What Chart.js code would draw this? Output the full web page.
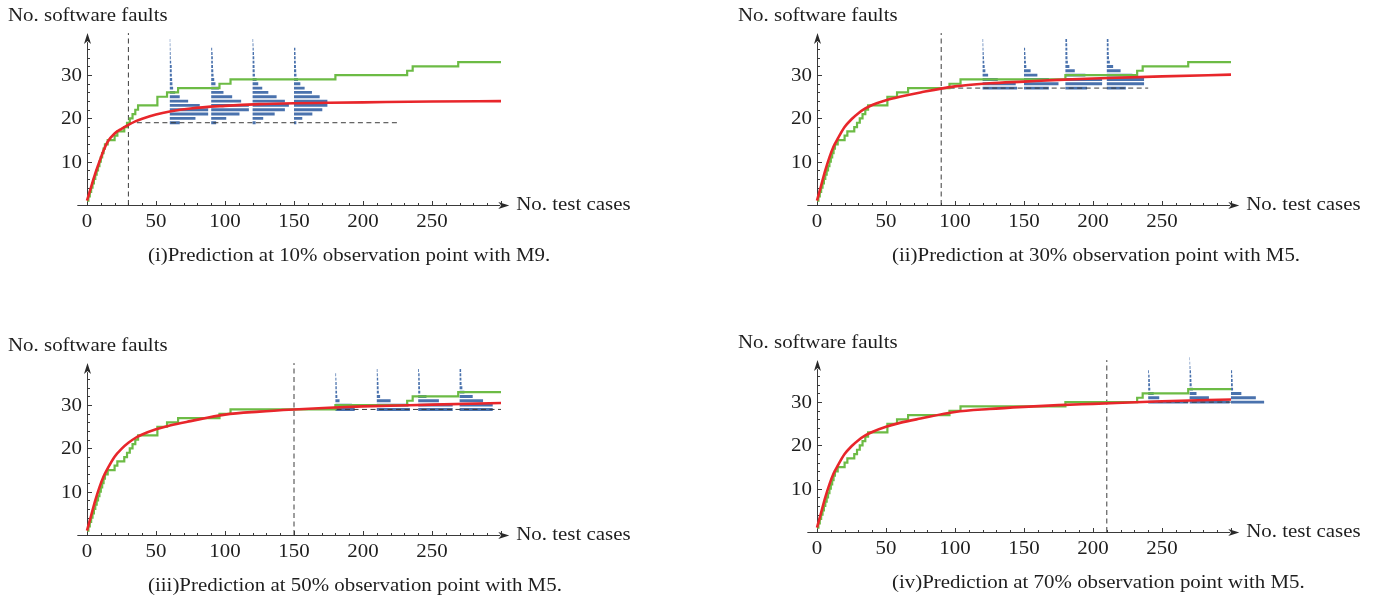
<!DOCTYPE html>
<html>
<head>
<meta charset="utf-8">
<script src="https://cdn.jsdelivr.net/npm/chart.js@4.4.0/dist/chart.umd.min.js"></script>
<style>
  body { margin: 0; background: #fff; width: 1377px; height: 595px; overflow: hidden; position: relative; }
  canvas { position: absolute; }
</style>
</head>
<body>
<canvas id="p1" width="640" height="270" style="left:0px;top:0px"></canvas>
<canvas id="p2" width="647" height="270" style="left:730px;top:0px"></canvas>
<canvas id="p3" width="640" height="265" style="left:0px;top:330px"></canvas>
<canvas id="p4" width="647" height="268" style="left:730px;top:327px"></canvas>
<script>
// observed faults (green step): count becomes faultsFound[i] at testCases[i]
const testCases   = [0, 1, 2, 3, 4, 5, 6, 7, 8, 9, 10, 11, 12, 13, 15, 20, 22, 27, 29, 31, 33, 35, 37, 51, 58, 66, 96, 104, 180, 232, 236, 269, 300];
const faultsFound = [1, 2, 3, 4, 5, 6, 7, 8, 9, 10, 11, 12, 13, 14, 15, 16, 17, 18, 19, 20, 21, 22, 23, 25, 26, 27, 28, 29, 30, 31, 32, 33, 33];

// fitted mean curves (red), read at these test cases
const curveX = [0, 3, 6, 9, 12, 15, 20, 25, 30, 35, 40, 50, 60, 75, 100, 125, 150, 175, 200, 250, 300];
const fitM9at10 = [1, 4.2, 7.3, 10, 12.6, 14.6, 16.5, 17.6, 18.5, 19.3, 19.9, 20.9, 21.6, 22.3, 22.9, 23.3, 23.5, 23.6, 23.7, 23.9, 24.0];
const fitM5at30 = [1, 4.5, 8, 11, 13.5, 15.3, 18, 19.8, 21.2, 22.3, 23.1, 24.2, 25, 26, 27.4, 28.1, 28.5, 28.9, 29.2, 29.7, 30.1];
const fitM5at50 = [1, 4.5, 8, 11, 13.5, 15.4, 18.1, 19.9, 21.3, 22.4, 23.2, 24.4, 25.3, 26.3, 27.8, 28.5, 29, 29.4, 29.7, 30.1, 30.5];
const fitM5at70 = [1, 4.5, 8, 11, 13.5, 15.3, 18, 19.8, 21.2, 22.3, 23.1, 24.3, 25.2, 26.2, 27.7, 28.4, 28.9, 29.3, 29.6, 30.2, 30.6];

// observation points and the fault count there
const obsPoints = [30, 90, 150, 210];
const obsFaults = [19, 27, 29, 30];
const dashEnds  = [225, 240, 300, 300];

// predictive distributions: bar lengths (in test-case units) for counts obsFaults, obsFaults+1, ...
const predTimes1 = [60, 90, 120, 150];
const predLen1 = [
  [7.2, 18.6, 27.8, 27.8, 21.7, 13.3, 7.2, 3.9, 2.4, 1.9, 1.7, 1.5, 1.4, 1.4, 1.0, 0.7, 0.6, 0.5, 0.4, 0.3],
  [3.6, 10.9, 20.5, 27.3, 27.3, 21.7, 15.2, 8.9, 5.6, 3.1, 2.2, 1.7, 1.5, 1.3, 1.2, 1.2, 1.0, 0.7, 0.5, 0.4],
  [2.2, 7.7, 16, 23.4, 26.3, 23.4, 17.4, 11.4, 7, 4.1, 2.9, 1.7, 1.5, 1.4, 1.3, 1.2, 1.0, 0.8, 0.6, 0.4],
  [1.7, 6, 13.3, 20.5, 24.2, 24.2, 18.6, 13, 7.7, 4.6, 2.9, 1.8, 1.6, 1.4, 1.3, 1.2, 1.1, 1.0, 0.7, 0.5]
];
const predTimes2 = [120, 150, 180, 210];
const predLen2 = [
  [25, 24, 11, 4, 2, 1.5, 1.2, 1.0, 0.8, 0.6, 0.5, 0.4],
  [18, 25, 18, 9.7, 4.8, 1.7, 1.4, 1.2, 1.0, 0.8, 0.6, 0.5],
  [15.7, 26.6, 26.6, 14.5, 6.8, 2.9, 1.8, 1.5, 1.4, 1.4, 1.3, 1.2],
  [13.8, 27, 27, 18.6, 10, 4.6, 2.2, 1.6, 1.4, 1.3, 1.3, 1.2]
];
const predTimes3 = [180, 210, 240, 270];
const predLen3 = [
  [14, 12, 3, 1.4, 1.2, 1.0, 0.9, 0.7, 0.5, 0.4],
  [24, 23, 10, 2.4, 1.5, 1.3, 1.2, 1.0, 0.7, 0.5],
  [25, 25, 15, 6, 1.5, 1.3, 1.2, 1.1, 1.0, 0.6],
  [24, 24, 17, 9.5, 3.5, 2, 1.4, 1.3, 1.2, 1.1]
];
const predTimes4 = [240, 270, 300];
const predLen4 = [
  [29, 8, 4, 1.5, 1.3, 1.2, 1.0, 0.6, 0.4, 0.3, 0.3],
  [29, 14, 5, 2.4, 1.5, 1.3, 1.2, 1.0, 0.6, 0.4, 0.3],
  [24, 18, 7.5, 1.5, 1.3, 1.2, 1.0, 0.8, 0.5, 0.4, 0.3]
];

const xTickLabels = [0, 50, 100, 150, 200, 250];
const yTickLabels = [10, 20, 30];
const yTitle = 'No. software faults';
const xTitle = 'No. test cases';
const captions = [
  '(i)Prediction at 10% observation point with M9.',
  '(ii)Prediction at 30% observation point with M5.',
  '(iii)Prediction at 50% observation point with M5.',
  '(iv)Prediction at 70% observation point with M5.'
];

// layout
const X_MIN = -8, X_MAX = 330, Y_MAX = 41;
const X_AXIS_END = 306, Y_AXIS_END = 39.7;
const ORIGIN_X = 87, ORIGIN_Y = 205, X_UNIT = 1.38, Y_UNIT = 4.33;
const TEXT_STRETCH = 1.1;
const FONT = '19px "Liberation Serif", "Times New Roman", serif';

function stretchedText(ctx, str, x, y, align) {
  ctx.save();
  ctx.translate(x, y);
  ctx.scale(TEXT_STRETCH, 1);
  ctx.textAlign = align;
  ctx.textBaseline = 'middle';
  ctx.fillText(str, 0, 0);
  ctx.restore();
}

const mmaAxes = {
  id: 'mmaAxes',
  beforeDatasetsDraw(chart) {
    const ctx = chart.ctx;
    const xs = chart.scales.x, ys = chart.scales.y;
    const y0 = Math.round(ys.getPixelForValue(0)) + 0.5;
    const x0 = Math.round(xs.getPixelForValue(0)) + 0.5;
    const xl = xs.getPixelForValue(-7), xr = xs.getPixelForValue(X_AXIS_END);
    const yt = ys.getPixelForValue(Y_AXIS_END);
    ctx.save();
    ctx.strokeStyle = '#3a3a3a';
    ctx.fillStyle = '#2a2a2a';
    ctx.lineWidth = 1;
    ctx.beginPath();
    ctx.moveTo(xl, y0); ctx.lineTo(xr - 9, y0);
    ctx.moveTo(x0, y0); ctx.lineTo(x0, yt + 9);
    for (let v = 10; v <= 300; v += 10) {
      const px = Math.round(xs.getPixelForValue(v)) + 0.5;
      ctx.moveTo(px, y0); ctx.lineTo(px, y0 - (v % 50 === 0 ? 4.5 : 2.5));
    }
    for (let v = 2; v <= 38; v += 2) {
      const py = Math.round(ys.getPixelForValue(v)) + 0.5;
      ctx.moveTo(x0, py); ctx.lineTo(x0 + (v % 10 === 0 ? 4.5 : 2.5), py);
    }
    ctx.stroke();
    // arrow heads
    ctx.beginPath();
    ctx.moveTo(xr, y0); ctx.lineTo(xr - 11, y0 - 3.5); ctx.lineTo(xr - 8, y0); ctx.lineTo(xr - 11, y0 + 3.5); ctx.closePath();
    ctx.fill();
    ctx.beginPath();
    ctx.moveTo(x0, yt); ctx.lineTo(x0 - 3.5, yt + 11); ctx.lineTo(x0, yt + 8); ctx.lineTo(x0 + 3.5, yt + 11); ctx.closePath();
    ctx.fill();
    ctx.restore();
  },
  afterDraw(chart, args, opts) {
    const ctx = chart.ctx;
    const xs = chart.scales.x, ys = chart.scales.y;
    const y0 = ys.getPixelForValue(0), x0 = xs.getPixelForValue(0);
    ctx.save();
    ctx.fillStyle = '#1e1e1e';
    ctx.font = FONT;
    xTickLabels.forEach(v => stretchedText(ctx, String(v), xs.getPixelForValue(v), y0 + 17, 'center'));
    yTickLabels.forEach(v => stretchedText(ctx, String(v), x0 - 5, ys.getPixelForValue(v) + 1, 'right'));
    stretchedText(ctx, yTitle, 8, 16, 'left');
    stretchedText(ctx, xTitle, xs.getPixelForValue(X_AXIS_END) + 7, y0, 'left');
    stretchedText(ctx, opts.caption, opts.captionX, 256, 'left');
    ctx.restore();
  }
};

function histogramPoints(times, lengths, base) {
  const pts = [];
  times.forEach((t, i) => {
    lengths[i].forEach((len, k) => {
      pts.push({ x: t, y: base + k }, { x: t + len, y: base + k }, { x: t + len, y: null });
    });
  });
  return pts;
}

function makePanel(id, idx, fit, times, lengths, captionX) {
  const canvas = document.getElementById(id);
  const w = canvas.width, h = canvas.height;
  const obs = obsPoints[idx], base = obsFaults[idx];
  new Chart(canvas, {
    type: 'line',
    data: {
      datasets: [
        {
          data: curveX.map((x, i) => ({ x: x, y: fit[i] })),
          borderColor: '#e8262b', borderWidth: 2.6, cubicInterpolationMode: 'monotone', pointRadius: 0
        },
        {
          data: testCases.map((x, i) => ({ x: x, y: faultsFound[i] })),
          borderColor: '#6cbb45', borderWidth: 2.2, stepped: true, pointRadius: 0
        },
        {
          data: [{ x: obs, y: 0 }, { x: obs, y: Y_AXIS_END }, { x: obs, y: null }, { x: obs, y: base }, { x: dashEnds[idx], y: base }],
          borderColor: '#3c3c3c', borderWidth: 1, borderDash: [5, 3.5], pointRadius: 0
        },
        {
          data: histogramPoints(times, lengths, base),
          borderColor: '#4a72ad', borderWidth: 2.9, borderCapStyle: 'butt', pointRadius: 0
        }
      ]
    },
    options: {
      responsive: false,
      animation: false,
      devicePixelRatio: 1,
      layout: {
        padding: {
          left: ORIGIN_X + X_MIN * X_UNIT,
          right: w - (ORIGIN_X + X_MAX * X_UNIT),
          top: ORIGIN_Y - Y_MAX * Y_UNIT,
          bottom: h - ORIGIN_Y
        }
      },
      scales: {
        x: { type: 'linear', min: X_MIN, max: X_MAX, display: false },
        y: { type: 'linear', min: 0, max: Y_MAX, display: false }
      },
      plugins: {
        legend: { display: false },
        tooltip: { enabled: false },
        mmaAxes: { caption: captions[idx], captionX: captionX }
      }
    },
    plugins: [mmaAxes]
  });
}

document.addEventListener('DOMContentLoaded', () => {
  makePanel('p1', 0, fitM9at10, predTimes1, predLen1, 148);
  makePanel('p2', 1, fitM5at30, predTimes2, predLen2, 162);
  makePanel('p3', 2, fitM5at50, predTimes3, predLen3, 148);
  makePanel('p4', 3, fitM5at70, predTimes4, predLen4, 162);
});
</script>
</body>
</html>
